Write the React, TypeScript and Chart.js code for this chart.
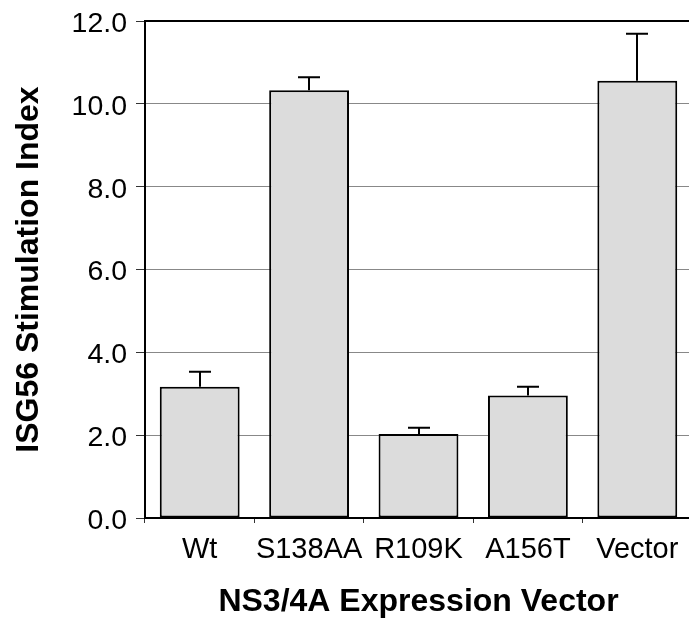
import React, { useEffect, useRef } from "react";
import { Chart, registerables } from "chart.js";

Chart.register(...registerables);

const categories = ["Wt", "S138AA", "R109K", "A156T", "Vector"];
const values = [3.17, 10.33, 2.03, 2.96, 10.56];
const upperErrors = [0.36, 0.31, 0.15, 0.21, 1.13];
const yTicks = [0, 2, 4, 6, 8, 10, 12];

const FONT = "'Liberation Sans', Arial, Helvetica, sans-serif";

export default function App() {
  const ref = useRef<HTMLCanvasElement | null>(null);

  useEffect(() => {
    const canvas = ref.current;
    if (!canvas) return;

    const framePlugin = {
      id: "frame",
      afterDatasetsDraw(chart: any) {
        const { ctx, chartArea } = chart;
        ctx.save();
        ctx.strokeStyle = "#000";
        ctx.lineWidth = 2;
        ctx.beginPath();
        ctx.moveTo(chartArea.left - 1, chartArea.top);
        ctx.lineTo(chartArea.right, chartArea.top);
        ctx.lineTo(chartArea.right, chartArea.bottom);
        ctx.stroke();
        ctx.restore();
      },
    };

    const errorPlugin = {
      id: "errorbars",
      afterDatasetsDraw(chart: any) {
        const { ctx } = chart;
        const meta = chart.getDatasetMeta(0);
        const yScale = chart.scales.y;
        ctx.save();
        ctx.strokeStyle = "#000";
        ctx.lineWidth = 2;
        meta.data.forEach((bar: any, i: number) => {
          const v = values[i];
          const e = upperErrors[i];
          const x = Math.round(bar.x);
          const y0 = bar.y;
          const y1 = yScale.getPixelForValue(v + e);
          ctx.beginPath();
          ctx.moveTo(x, y0);
          ctx.lineTo(x, y1);
          ctx.moveTo(x - 11, y1);
          ctx.lineTo(x + 11, y1);
          ctx.stroke();
        });
        ctx.restore();
      },
    };

    const chart = new Chart(canvas, {
      type: "bar",
      data: {
        labels: categories,
        datasets: [
          {
            data: values,
            backgroundColor: "#dcdcdc",
            borderColor: "#000",
            borderWidth: 2,
            borderSkipped: false,
            barPercentage: 0.73,
            categoryPercentage: 1,
          },
        ],
      },
      options: {
        responsive: false,
        animation: false,
        devicePixelRatio: 1,
        layout: { padding: { left: 0, top: 21, right: 8, bottom: 0 } },
        plugins: {
          legend: { display: false },
          tooltip: { enabled: false },
        },
        scales: {
          x: {
            offset: true,
            grid: {
              display: true,
              drawOnChartArea: false,
              drawTicks: true,
              tickLength: 5,
              tickColor: "#333",
              offset: true,
            },
            border: { display: true, color: "#000", width: 2 },
            ticks: {
              color: "#000",
              font: { family: FONT, size: 29 },
              padding: 10,
              maxRotation: 0,
              autoSkip: false,
            },
            title: {
              display: true,
              text: "NS3/4A Expression Vector",
              color: "#000",
              font: { family: FONT, size: 32, weight: "bold" },
              padding: { top: 0, bottom: 4 },
            },
            afterFit(scale: any) {
              scale.height = 107;
              scale.paddingLeft = 0;
              scale.paddingRight = 0;
            },
          },
          y: {
            min: 0,
            max: 12,
            afterBuildTicks(scale: any) {
              scale.ticks = yTicks.map((v) => ({ value: v }));
            },
            grid: {
              color: "#888",
              lineWidth: 1,
              drawTicks: true,
              tickLength: 9,
              tickColor: "#333",
            },
            border: { display: true, color: "#000", width: 2 },
            ticks: {
              color: "#000",
              font: { family: FONT, size: 28.5 },
              padding: 9,
              labelOffset: 3,
              callback: (v: any) => Number(v).toFixed(1),
            },
            title: {
              display: true,
              text: "ISG56 Stimulation Index",
              color: "#000",
              font: { family: FONT, size: 32, weight: "bold" },
              padding: { top: 10, bottom: 0 },
            },
            afterFit(scale: any) {
              scale.width = 145;
              scale.paddingTop = 0;
              scale.paddingBottom = 0;
            },
          },
        },
      },
      plugins: [framePlugin, errorPlugin],
    });

    return () => chart.destroy();
  }, []);

  return (
    <div
      style={{
        position: "fixed",
        left: 0,
        top: 0,
        width: 689,
        height: 625,
        overflow: "hidden",
        background: "#fff",
      }}
    >
      <canvas ref={ref} width={700} height={625} style={{ display: "block" }} />
    </div>
  );
}
